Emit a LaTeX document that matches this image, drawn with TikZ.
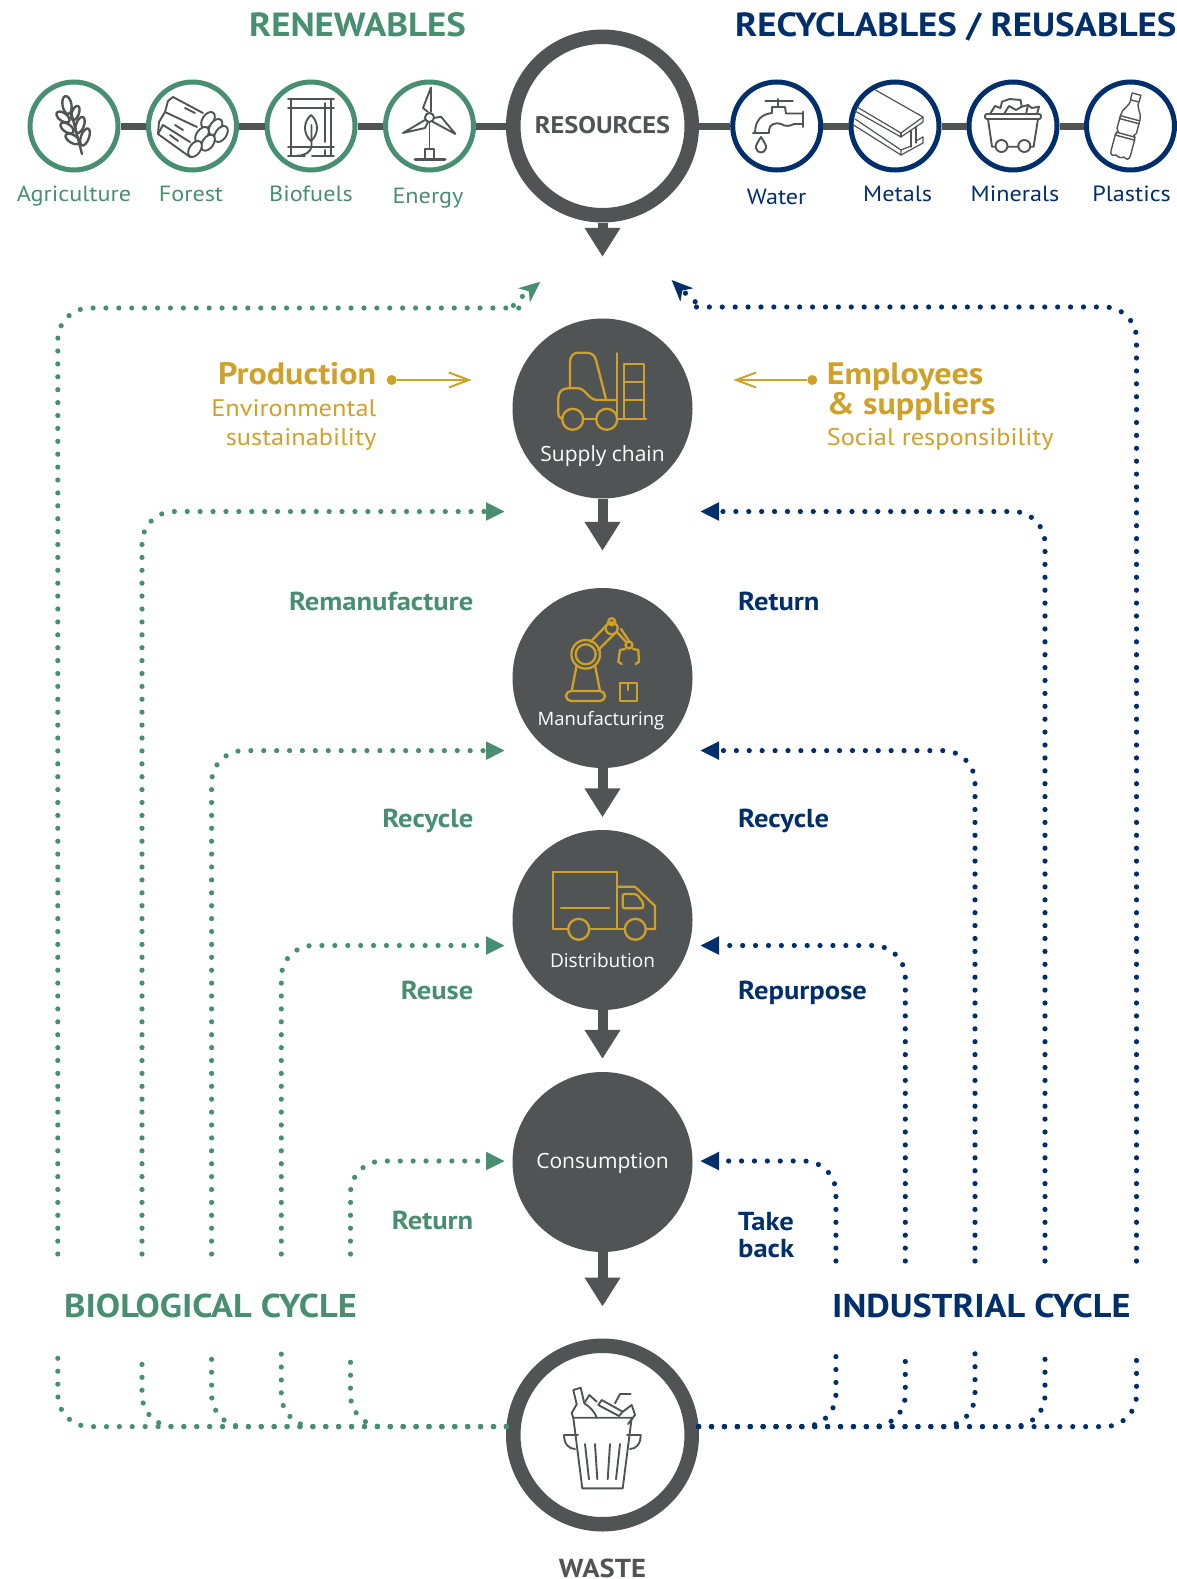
\documentclass[tikz,border=0pt]{standalone}
\usepackage{fontspec}
\usepackage{tikz}
\usetikzlibrary{arrows.meta}
\setmainfont[FakeStretch=1.1]{PT Sans}
\newfontfamily\circlefont{Open Sans}
\definecolor{cyclegreen}{HTML}{478F70}
\definecolor{cycleblue}{HTML}{002F6C}
\definecolor{slate}{HTML}{505455}
\definecolor{gold}{HTML}{D0A128}
\tikzset{
    resourcering/.style={circle,draw=slate,fill=white,line width=14.5pt,minimum size=178.5pt,inner sep=0pt},
    stagedisc/.style={circle,fill=slate,minimum size=180pt,inner sep=0pt},
    greenring/.style={circle,draw=cyclegreen,fill=white,line width=5pt,minimum size=88pt,inner sep=0pt},
    bluering/.style={circle,draw=cycleblue,fill=white,line width=5pt,minimum size=88pt,inner sep=0pt},
    chainline/.style={draw=slate,line width=7pt},
    flowarrow/.style={draw=slate,line width=10pt,-{Triangle[length=29pt,width=34pt]}},
    dotted line/.style={line width=5.2pt,line cap=round,dash pattern=on 0pt off 12.9pt,rounded corners=32pt},
    greendots/.style={dotted line,draw=cyclegreen},
    bluedots/.style={dotted line,draw=cycleblue},
    greentip/.style={-{Triangle[length=19pt,width=17pt,fill=cyclegreen]}},
    bluetip/.style={-{Triangle[length=19pt,width=17pt,fill=cycleblue]}},
    goldarrow/.style={draw=gold,line width=2pt,-{Straight Barb[length=20pt,width=15pt]}},
    golddot/.style={circle,fill=gold,minimum size=10pt,inner sep=0pt},
    heading/.style={font=\fontsize{33.5}{33.5}\selectfont\bfseries,anchor=base,inner sep=0pt},
    cycletitle/.style={font=\fontsize{33}{33}\selectfont\bfseries,anchor=base west,inner sep=0pt},
    itemname/.style={font=\fontsize{22}{22}\selectfont,anchor=base,inner sep=0pt},
    looplabel/.style={font=\fontsize{26}{26}\selectfont\bfseries,inner sep=0pt},
    goldhead/.style={font=\fontsize{31}{31}\selectfont\bfseries,text=gold,inner sep=0pt},
    goldnote/.style={font=\fontsize{24}{24}\selectfont,text=gold,inner sep=0pt},
    disclabel/.style={font=\circlefont\fontsize{21}{21}\selectfont,text=white,anchor=base,inner sep=0pt},
    greyicon/.style={draw=slate,line width=1.9pt,line join=round,line cap=round},
    goldicon/.style={draw=gold,line width=2.3pt,line join=round,line cap=round},
}
\begin{document}
\begin{tikzpicture}[x=1pt,y=-1pt]
\useasboundingbox (0,0) rectangle (1176,1579);

\node[resourcering] (resources) at (602.5,126) {};
\node[stagedisc] (supply) at (602.5,408.5) {};
\node[stagedisc] (manufacturing) at (602.5,678) {};
\node[stagedisc] (distribution) at (602.5,920) {};
\node[stagedisc] (consumption) at (602.5,1162) {};
\node[resourcering] (waste) at (602.5,1435) {};

\node[greenring] (agriculture) at (74,126) {};
\node[greenring] (forest) at (192.5,126) {};
\node[greenring] (biofuels) at (311,126) {};
\node[greenring] (energy) at (429.5,126) {};
\node[bluering] (water) at (776.7,126) {};
\node[bluering] (metals) at (895,126) {};
\node[bluering] (minerals) at (1013,126) {};
\node[bluering] (plastics) at (1130.5,126) {};

\draw[chainline] (agriculture) -- (forest);
\draw[chainline] (forest) -- (biofuels);
\draw[chainline] (biofuels) -- (energy);
\draw[chainline] (energy) -- (resources);
\draw[chainline] (resources) -- (water);
\draw[chainline] (water) -- (metals);
\draw[chainline] (metals) -- (minerals);
\draw[chainline] (minerals) -- (plastics);

\draw[flowarrow,shorten >=61.5pt] (resources) -- (supply);
\draw[flowarrow,shorten >=37pt] (supply) -- (manufacturing);
\draw[flowarrow,shorten >=12.5pt] (manufacturing) -- (distribution);
\draw[flowarrow,shorten >=13pt] (distribution) -- (consumption);
\draw[flowarrow,shorten >=32pt] (consumption) -- (waste);

\foreach \colx/\rowy [count=\i] in {142/511.5,211.6/750.6,281.3/945.5,350.5/1161}{
    \coordinate (greendown\i) at (\colx,1353);
    \coordinate (greenup\i) at (\colx,1254);
    \coordinate (greenend\i) at (505,\rowy);
    \draw[greendots] (waste.175) -| (greendown\i);
    \draw[greendots,greentip] (greenup\i) |- (greenend\i);
}
\foreach \colx/\rowy [count=\i] in {1045/511.5,975/750.6,905.3/945.5,835.9/1161}{
    \coordinate (bluedown\i) at (\colx,1350);
    \coordinate (blueup\i) at (\colx,1261);
    \coordinate (blueend\i) at (700,\rowy);
    \draw[bluedots] (waste.5) -| (bluedown\i);
    \draw[bluedots,bluetip] (blueup\i) |- (blueend\i);
}
\coordinate (greentop) at (540.4,281.7);
\coordinate (bluetop) at (671.6,280);
\draw[greendots] (waste.175) -| (57.8,1353);
\draw[bluedots] (waste.5) -| (1136.5,1350);
\draw[greendots,-{Stealth[length=21pt,width=18pt,inset=6pt,fill=cyclegreen]}] (57.8,1254) |- (490,308) .. controls (505,308) and (516,302) .. (greentop);
\draw[bluedots,-{Stealth[length=21pt,width=18pt,inset=6pt,fill=cycleblue]}] (1136.5,1261) |- (725,307) .. controls (705,307) and (690,298) .. (bluetop);

\node[heading,text=cyclegreen] (renewables) at (357.5,37) {RENEWABLES};
\node[heading,text=cycleblue,anchor=base west] (recyclables) at (735,37) {RECYCLABLES / REUSABLES};
\node[cycletitle,text=cyclegreen] (biocycle) at (64,1317) {BIOLOGICAL CYCLE};
\node[cycletitle,text=cycleblue] (indcycle) at (832,1317) {INDUSTRIAL CYCLE};

\node[itemname,text=cyclegreen] (agriname) at (74,201) {Agriculture};
\node[itemname,text=cyclegreen] (forestname) at (191,201) {Forest};
\node[itemname,text=cyclegreen] (bioname) at (311,201) {Biofuels};
\node[itemname,text=cyclegreen] (energyname) at (428,203) {Energy};
\node[itemname,text=cycleblue] (watername) at (776.7,204) {Water};
\node[itemname,text=cycleblue] (metalsname) at (897.6,201.5) {Metals};
\node[itemname,text=cycleblue] (mineralsname) at (1015,201.5) {Minerals};
\node[itemname,text=cycleblue] (plasticsname) at (1131.6,201.5) {Plastics};

\node[font=\fontsize{24}{24}\selectfont\bfseries,text=slate,anchor=base,inner sep=0pt] (resourcesname) at (602.5,133) {RESOURCES};
\node[font=\fontsize{26}{26}\selectfont\bfseries,text=slate,anchor=base,inner sep=0pt] (wastename) at (602.5,1577) {WASTE};

\node[disclabel] (supplyname) at (602.5,461.7) {Supply chain};
\node[disclabel,font=\circlefont\fontsize{18.5}{18.5}\selectfont] (manufname) at (601,725) {Manufacturing};
\node[disclabel,font=\circlefont\fontsize{19}{19}\selectfont] (distname) at (602.5,967.5) {Distribution};
\node[disclabel] (consname) at (602.5,1168.5) {Consumption};

\node[goldhead,anchor=base east] (production) at (376.5,384.6) {Production};
\node[goldnote,anchor=base east] (environmental) at (376.5,416) {Environmental};
\node[goldnote,anchor=base east] (sustainability) at (376.5,445) {sustainability};
\node[goldhead,anchor=base west] (employees) at (826.6,384.6) {Employees};
\node[goldhead,anchor=base west] (suppliers) at (826.6,414) {\& suppliers};
\node[goldnote,anchor=base west] (social) at (826.6,445) {Social responsibility};
\node[golddot] (productiondot) at (391.7,380) {};
\node[golddot] (employeesdot) at (812.3,380) {};
\coordinate (productionend) at (471.7,380);
\coordinate (employeesend) at (733.3,380);
\draw[goldarrow] (productiondot) -- (productionend);
\draw[goldarrow] (employeesdot) -- (employeesend);

\node[looplabel,text=cyclegreen,anchor=base east] (remanufacture) at (473.5,610) {Remanufacture};
\node[looplabel,text=cyclegreen,anchor=base east] (recycleleft) at (473.5,827.6) {Recycle};
\node[looplabel,text=cyclegreen,anchor=base east] (reuse) at (473.5,999.8) {Reuse};
\node[looplabel,text=cyclegreen,anchor=base east] (returnleft) at (473.5,1229) {Return};
\node[looplabel,text=cycleblue,anchor=base west] (returnright) at (738,610) {Return};
\node[looplabel,text=cycleblue,anchor=base west] (recycleright) at (738,827.6) {Recycle};
\node[looplabel,text=cycleblue,anchor=base west] (repurpose) at (738,999.8) {Repurpose};
\node[looplabel,text=cycleblue,anchor=base west] (take) at (738,1230) {Take};
\node[looplabel,text=cycleblue,anchor=base west] (back) at (738,1257.5) {back};

% wheat
\draw[greyicon,line width=2.4pt] (82,154) -- (71,112);
\draw[greyicon,line width=2.4pt,rotate around={10:(67,105)}] (67,105) ellipse (4.5 and 9);
\draw[greyicon,line width=2.4pt,rotate around={-20:(75.4,113)}] (75.4,113) ellipse (3.5 and 7.5);
\draw[greyicon,line width=2.4pt,rotate around={55:(63,117)}] (63,117) ellipse (4 and 7.5);
\draw[greyicon,line width=2.4pt,rotate around={-20:(80,125)}] (80,125) ellipse (4 and 8.5);
\draw[greyicon,line width=2.4pt,rotate around={55:(67,128)}] (67,128) ellipse (4 and 7.5);
\draw[greyicon,line width=2.4pt,rotate around={-20:(85,137)}] (85,137) ellipse (4 and 9);
\draw[greyicon,line width=2.4pt,rotate around={60:(72.7,139)}] (72.7,139) ellipse (4 and 8);

% logs
\foreach \logx/\logy in {208/120,215.5/127,221/134,202/135,208/142.7,195/149}{
    \draw[greyicon,fill=white,rotate around={-35:(\logx,\logy)}] (\logx,\logy) ellipse (5.5 and 9);
}
\draw[greyicon] (203,113) -- (173,97) -- (168,101) -- (165,112) -- (197,127);
\draw[greyicon] (165,112) -- (159,122) -- (158,134) -- (190,157);
\draw[greyicon] (190,142) -- (163,125) -- (158,134);
\draw[greyicon] (185,108) -- (195,113) (175,125) -- (183,130) (170,135) -- (178,141);

% biofuels
\draw[greyicon] (288,98.7) -- (334,98.7) (288,108) -- (334,108) (288,146.7) -- (334,146.7) (288,155.7) -- (305,155.7) (312,155.7) -- (334,155.7);
\draw[greyicon] (291,98.7) -- (291,155.7) (331,98.7) -- (331,155.7) (325,103) -- (325,142) (325,150) -- (325,155.7);
\draw[greyicon] (311,115) .. controls (303,122) and (303,134) .. (311,141) .. controls (319,134) and (319,122) .. (311,115);
\draw[greyicon] (311.5,125) -- (311.5,146) .. controls (311,152) and (305,155.7) .. (297,155.7);

% turbine
\draw[greyicon] (429.5,122) -- (429.5,149);
\draw[greyicon] (425,159.5) -- (425,149) -- (434,149) -- (434,159.5);
\draw[greyicon,line width=3pt] (415,159.7) -- (445,159.7);
\draw[greyicon] (429.5,117.5) circle (4.5);
\draw[greyicon] (428,112) -- (423,108) -- (431,87.5) -- (431,112);
\draw[greyicon] (425,120) -- (403,133) -- (425,128) -- (428,122);
\draw[greyicon] (434,118) -- (441,116.7) -- (455.4,134) -- (432.5,121.7);

% faucet
\draw[greyicon] (765.3,101) -- (792.9,101) (778,99) -- (778,107);
\draw[greyicon] (802.8,111.7) -- (802.8,127);
\draw[greyicon] (802.8,113.5) -- (786,113.5) -- (785,107) -- (772,107) -- (772,113) .. controls (762,114) and (755,120) .. (755,133);
\draw[greyicon] (753,133) -- (769,133) -- (769,130) .. controls (769,124) and (777,122) .. (781,124) .. controls (786,127) and (790,126) .. (794,124) -- (802.8,124);
\draw[greyicon] (761,137) .. controls (757,143) and (755.5,146) .. (756,148) .. controls (757,154) and (765,154) .. (766,148) .. controls (766.5,146) and (765,143) .. (761,137);

% beam
\draw[greyicon,line width=1.2pt] (875.5,90) -- (923,117) -- (901,133) -- (857,107);
\draw[greyicon,line width=1.2pt] (923,117) -- (923,122) -- (901,137) -- (855,111);
\draw[greyicon,line width=1.2pt] (901,133) -- (901,137);
\draw[greyicon,line width=1.2pt] (911,130.5) -- (911,147) (916,127) -- (916,143);
\draw[greyicon,line width=1.2pt] (923,137) -- (923,143) -- (901,155) -- (853.5,125);
\draw[greyicon,line width=1.2pt] (923,137) -- (916,141);
\draw[greyicon,line width=1.2pt] (901,155) -- (901,150) -- (855,119);
\draw[greyicon,line width=1.2pt] (901,150) -- (911,146);

% cart
\draw[greyicon] (990,114) -- (995,106) -- (1000.5,108) -- (1002,101.7) -- (1009.7,99) -- (1020.6,100) -- (1021.7,106.7) -- (1028,105) -- (1031.7,108) -- (1039,106.7) -- (1037,114);
\draw[greyicon] (1004,114) -- (1009,106) -- (1016,110) -- (1021.7,106.7) (1026,114) -- (1028,105);
\draw[greyicon,rounded corners=2pt] (985,114) rectangle (1041,119);
\draw[greyicon] (988,119) -- (992,146.7) -- (995.5,146.7) (1007.5,146.7) -- (1018.3,146.7) (1030.3,146.7) -- (1033.6,146.7) -- (1038,119);
\draw[greyicon] (1001.5,146) circle (6) (1024.3,146) circle (6);

% bottle
\begin{scope}[shift={(1128,126)},rotate=-15]
\draw[greyicon,line width=1.4pt] (-4.5,-33) rectangle (4.5,-26);
\draw[greyicon,line width=1.4pt] (-4,-26) .. controls (-4,-18) and (-10,-16) .. (-10,-9) -- (-10,5) -- (-8,8) -- (-10,11) -- (-10,28) .. controls (-10,33) and (-7,33) .. (-4,31) .. controls (-2,33) and (2,33) .. (4,31) .. controls (7,33) and (10,33) .. (10,28) -- (10,11) -- (8,8) -- (10,5) -- (10,-9) .. controls (10,-16) and (4,-18) .. (4,-26);
\draw[greyicon,line width=1.4pt] (-10,-8) -- (10,-8) (-10,-5) -- (10,-5) (-10,9) -- (10,9) (-10,12) -- (10,12);
\end{scope}

% forklift
\draw[goldicon] (572.7,419.3) circle (10.5) (606.7,419.3) circle (10.5);
\draw[goldicon] (583,418.7) -- (596,418.7);
\draw[goldicon] (562.5,418) .. controls (559,418) and (558.3,416) .. (558.3,414) -- (558.3,398.3) .. controls (558.3,392) and (562,388.3) .. (568.3,388.3) -- (578.3,388.3) .. controls (585,388.3) and (589,400) .. (597,400) -- (616.7,400);
\draw[goldicon] (616.7,353.3) -- (616.7,419) -- (646,419);
\draw[goldicon] (570,388.3) -- (570,361.7) .. controls (570,356) and (574,352.7) .. (578.3,352.7) -- (586,352.7) .. controls (591,352.7) and (595,355) .. (596,360) -- (606,399.3);
\draw[goldicon] (624.3,419) -- (624.3,364.3) -- (644,364.3) -- (644,419) (624.3,381.7) -- (644,381.7) (624.3,400) -- (644,400);

% robot
\draw[goldicon,rounded corners=5pt] (566,691) rectangle (605,701);
\draw[goldicon] (571.7,691) -- (576.7,665) (600,691) -- (595,665);
\draw[goldicon] (585.7,654.3) circle (14.3) (585.7,654.3) circle (10);
\draw[goldicon] (590.7,641.7) -- (606.7,625) (598.3,650) -- (615,633.3);
\draw[goldicon] (611.7,628.3) circle (6) (611.7,621.7) circle (3.5);
\draw[goldicon] (616.7,631.7) -- (626,642) (621,629) -- (629,641);
\draw[goldicon] (629,645) circle (3.5);
\draw[goldicon] (625,649) -- (620,650) -- (618.3,661.7) -- (621.7,664);
\draw[goldicon] (633,649) -- (638.3,650) -- (639,661.7) -- (635.7,664);
\draw[goldicon] (620,683.3) rectangle (637.3,700.7) (628.3,683.3) -- (628.3,690);

% truck
\draw[goldicon] (568,929) -- (552.7,929) -- (552.7,872.3) -- (616.7,872.3) -- (616.7,929);
\draw[goldicon] (589.3,929) -- (625,929);
\draw[goldicon] (646,929) -- (655,929) -- (655,906) -- (635,886.7) -- (616.7,886.7);
\draw[goldicon,rounded corners=2pt] (622.7,894) -- (636.7,894) -- (643.3,902.7) -- (643.3,908.3) -- (622.7,908.3) -- cycle;
\draw[goldicon] (561,908.3) -- (609.3,908.3);
\draw[goldicon] (578.7,929.3) circle (10.5) (635.3,929.3) circle (10.5);

% bin
\draw[greyicon] (573.3,1417.7) -- (631.7,1417.7) (573.3,1417.7) -- (582.3,1488.3) -- (622.7,1488.3) -- (631.7,1417.7);
\draw[greyicon] (564,1435) -- (578,1435) (627,1435) -- (640.7,1435);
\draw[greyicon] (564,1435) .. controls (564,1444) and (569,1449) .. (575,1449) (640.7,1435) .. controls (640.7,1444) and (636,1449) .. (630,1449);
\draw[greyicon] (585,1444) -- (589,1479.3) (595,1444) -- (597.3,1479.3) (610,1444) -- (607.7,1479.3) (620,1444) -- (616,1479.3);
\draw[greyicon] (573.3,1417.7) -- (571.7,1413) -- (576.7,1404.3) -- (573.3,1390) -- (580.7,1387.7) -- (584.3,1403.3) .. controls (590,1407) and (595,1412) .. (596.7,1417.7);
\draw[greyicon] (585,1402) -- (589.3,1395) -- (596.7,1401.7);
\draw[greyicon] (601.7,1400) -- (622.7,1411.7) -- (619,1416) -- (598.3,1405) -- cycle;
\draw[greyicon] (615,1403.3) -- (620,1394) -- (630.7,1394);
\draw[greyicon] (622.7,1411.7) -- (631.7,1405) -- (635,1415) -- (628,1424);
\end{tikzpicture}
\end{document}
